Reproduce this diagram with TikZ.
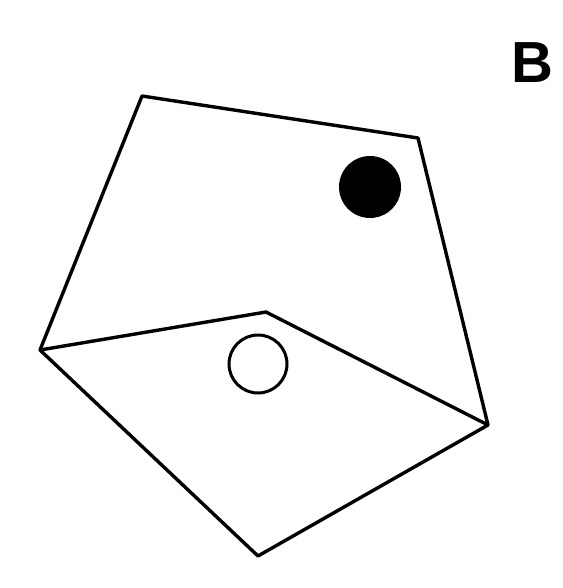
\documentclass[tikz,border=0pt]{standalone}
\usepackage{fontspec}
\setmainfont{Liberation Sans}
\usetikzlibrary{calc,positioning}

\begin{document}
\begin{tikzpicture}[
            x=1pt, y=-1pt,
            % Stili
            edge/.style={line width=3.4pt, line join=round},
            dotfull/.style={circle, fill=black, inner sep=0pt, minimum size=62pt},
            dotopen/.style={circle, draw=black, line width=3pt, fill=white, inner sep=0pt, minimum size=58pt},
            panel/.style={font=\fontsize{58}{64}\selectfont\bfseries}
        ]
        \useasboundingbox (0,0) rectangle (562,588);

        % Vertici
        \coordinate (topl) at (142,96);
        \coordinate (topr) at (418,138);
        \coordinate (right) at (488,425);
        \coordinate (bottom) at (258,556);
        \coordinate (left) at (40,350);
        \coordinate (inner) at (266,312);

        % Pentagono
        \draw [edge] (topl) -- (topr) -- (right) -- (bottom) -- (left) -- cycle;

        % Piega
        \draw [edge] (left) -- (inner) -- (right);

        % Cerchi
        \node (full) [dotfull] at (370,187) {};
        \node (open) [dotopen] at (258,364) {};

        % Etichetta
        \node (label) [panel] at (532,63) {B};

    \end{tikzpicture}
\end{document}
